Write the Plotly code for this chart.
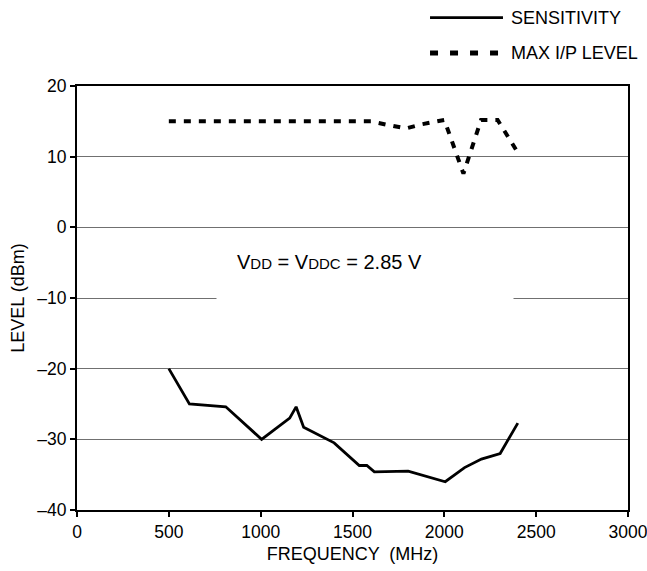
import plotly.graph_objects as go

# Sensitivity curve (MHz, dBm)
sens_freq = [500, 612, 810, 1005, 1158, 1193, 1234, 1400, 1537, 1578, 1619, 1803, 2005, 2110, 2202, 2304, 2400]
sens_level = [-20.0, -25.0, -25.4, -30.0, -27.0, -25.4, -28.3, -30.5, -33.7, -33.7, -34.6, -34.5, -36.0, -34.0, -32.8, -32.0, -27.7]

# Max input level curve
max_freq = [500, 800, 1000, 1200, 1400, 1600, 1690, 1790, 1880, 2000, 2104, 2200, 2290, 2390]
max_level = [15.0, 15.0, 15.0, 15.0, 15.0, 15.0, 14.5, 14.0, 14.6, 15.2, 7.6, 15.2, 15.2, 11.0]

series_names = ["SENSITIVITY", "MAX I/P LEVEL"]

x_ticks = [0, 500, 1000, 1500, 2000, 2500, 3000]
y_ticks = [-40, -30, -20, -10, 0, 10, 20]
y_tick_text = ["\u201340", "\u201330", "\u201320", "\u201310", "0", "10", "20"]

FONT = "Liberation Sans, Arial, sans-serif"
SENS_LINE = dict(color="black", width=2.8)
MAX_LINE = dict(color="black", width=4, dash="7px,8px")

fig = go.Figure()
fig.add_trace(go.Scatter(x=sens_freq, y=sens_level, mode="lines", name=series_names[0],
                         line=SENS_LINE, showlegend=False))
fig.add_trace(go.Scatter(x=max_freq, y=max_level, mode="lines", name=series_names[1],
                         line=MAX_LINE, showlegend=False))

# legend drawn in the top margin
leg_x0, leg_x1, leg_tx = 0.6407, 0.7731, 0.784
leg_y = [1.1611, 1.0778]
fig.add_shape(type="line", xref="paper", yref="paper", x0=leg_x0, x1=leg_x1, y0=leg_y[0], y1=leg_y[0],
              line=SENS_LINE)
fig.add_shape(type="line", xref="paper", yref="paper", x0=leg_x0, x1=leg_x1, y0=leg_y[1], y1=leg_y[1],
              line=dict(color="black", width=5, dash="8px,12px"))
for name, yy in zip(series_names, leg_y):
    fig.add_annotation(x=leg_tx, y=yy, xref="paper", yref="paper", showarrow=False,
                       xanchor="left", yanchor="middle", text=name,
                       font=dict(size=18, color="black", family=FONT))

# white box that interrupts the gridline below the label
fig.add_annotation(x=0.5225, y=0.5, xref="paper", yref="paper", showarrow=False, text=" ",
                   width=296, height=12, bgcolor="white", borderpad=0,
                   xanchor="center", yanchor="middle")

fig.add_annotation(x=0.458, y=0.585, xref="paper", yref="paper", showarrow=False,
                   text="V<span style='font-size:15px'>DD</span> = V<span style='font-size:15px'>DDC</span> = 2.85 V",
                   font=dict(size=20, color="black", family=FONT))

fig.update_layout(
    width=647, height=571,
    margin=dict(l=77, r=19, t=86, b=61),
    paper_bgcolor="white", plot_bgcolor="white",
    font=dict(family=FONT, size=17.5, color="black"),
    showlegend=False,
    xaxis=dict(range=[0, 3000], tickvals=x_ticks, ticks="outside", ticklen=5, tickcolor="black",
               tickwidth=1.5, automargin=False, ticklabeloverflow="allow",
               showgrid=False, zeroline=False, showline=True, linecolor="black", linewidth=2,
               mirror=True, title=dict(text="FREQUENCY  (MHz)", font=dict(size=18), standoff=6),
               tickfont=dict(size=17.5)),
    yaxis=dict(range=[-40, 20], tickvals=y_ticks, ticktext=y_tick_text, ticks="outside",
               ticklen=5, tickcolor="black", tickwidth=1.5, automargin=False,
               showgrid=True, gridcolor="#707070", gridwidth=1.3,
               zeroline=False, showline=True, linecolor="black", linewidth=2, mirror=True,
               title=dict(text="LEVEL (dBm)", font=dict(size=18), standoff=8),
               tickfont=dict(size=17.5)),
)

fig.write_html("out.html", config={"displayModeBar": False},
               post_script="document.body.style.margin='0';")
